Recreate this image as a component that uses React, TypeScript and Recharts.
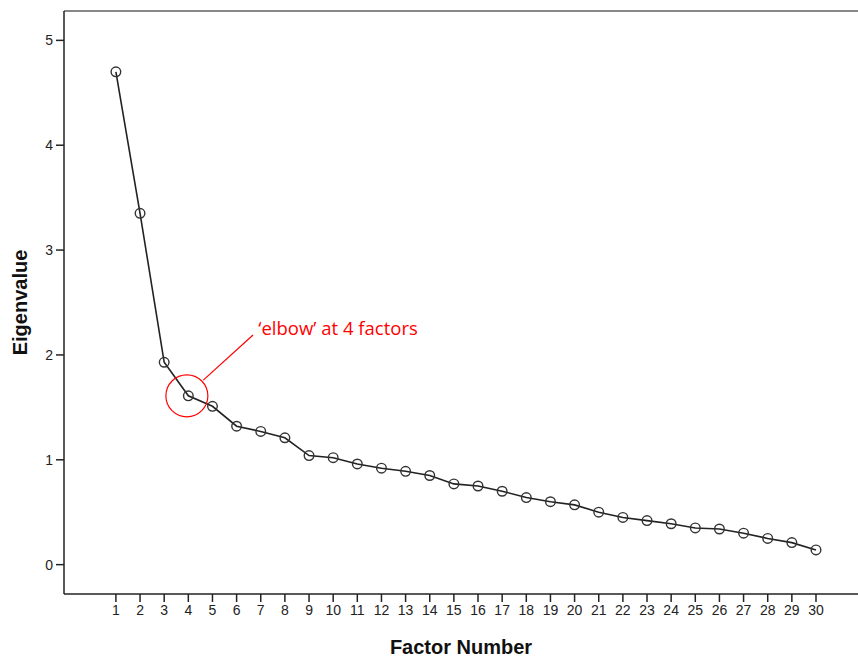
import React from 'react';
import { LineChart, Line, XAxis, YAxis, ReferenceLine, ReferenceDot, Label } from 'recharts';

const factors = [1, 2, 3, 4, 5, 6, 7, 8, 9, 10, 11, 12, 13, 14, 15, 16, 17, 18, 19, 20, 21, 22, 23, 24, 25, 26, 27, 28, 29, 30];
const eigenvalues = [
  4.70, 3.35, 1.93, 1.61, 1.51, 1.32, 1.27, 1.21, 1.04, 1.02,
  0.96, 0.92, 0.89, 0.85, 0.77, 0.75, 0.70, 0.64, 0.60, 0.57,
  0.50, 0.45, 0.42, 0.39, 0.35, 0.34, 0.30, 0.25, 0.21, 0.14,
];
const yTicks = [0, 1, 2, 3, 4, 5];
const elbowNote = '\u2018elbow\u2019 at 4 factors';

const data = factors.map((f, i) => ({ factor: f, eigen: eigenvalues[i] }));

const font = '"Liberation Sans", Arial, sans-serif';
const tickStyle = { fill: '#222', fontSize: 14, fontFamily: font };

const HollowDot = (props: any) => {
  const { cx, cy } = props;
  if (cx == null || cy == null) return null;
  return <circle cx={cx} cy={cy} r={4.8} fill="none" stroke="#333" strokeWidth={1.4} />;
};

export default function App() {
  return (
    <div style={{ position: 'absolute', left: 0, top: 0, background: '#fff' }}>
      <LineChart width={858} height={657} data={data} margin={{ top: 11, right: 0, bottom: 0, left: 0 }}>
        <XAxis
          dataKey="factor"
          type="number"
          domain={[-1.15, 31.74]}
          ticks={factors}
          interval={0}
          height={63}
          tick={tickStyle}
          tickSize={8}
          tickMargin={3}
          stroke="#222"
          axisLine={{ stroke: '#222', strokeWidth: 1.5 }}
          tickLine={{ stroke: '#222', strokeWidth: 1.5 }}
          allowDataOverflow
        >
          <Label value="Factor Number" position="insideBottom" offset={3} style={{ fontFamily: font, fontSize: 20, fontWeight: 'bold', fill: '#111' }} />
        </XAxis>
        <YAxis
          type="number"
          domain={[-0.28, 5.28]}
          ticks={yTicks}
          width={64}
          tick={tickStyle}
          tickSize={8}
          tickMargin={3}
          axisLine={{ stroke: '#222', strokeWidth: 1.5 }}
          tickLine={{ stroke: '#222', strokeWidth: 1.5 }}
          allowDataOverflow
        >
          <Label value="Eigenvalue" angle={-90} position="insideLeft" offset={20} style={{ fontFamily: font, fontSize: 20, fontWeight: 'bold', fill: '#111', textAnchor: 'middle' }} />
        </YAxis>
        <ReferenceLine y={5.28} stroke="#888" strokeWidth={2} />
        <Line
          dataKey="eigen"
          stroke="#222"
          strokeWidth={1.6}
          dot={<HollowDot />}
          activeDot={false}
          isAnimationActive={false}
        />
        <ReferenceDot x={3.94} y={1.61} r={21} fill="none" stroke="#ff0000" strokeWidth={1.2} />
        <ReferenceLine
          segment={[{ x: 4.62, y: 1.76 }, { x: 6.68, y: 2.19 }]}
          stroke="#ff0000"
          strokeWidth={1.2}
        />
        <ReferenceDot x={6.9} y={2.25} r={0} fill="none" stroke="none">
          <Label value={elbowNote} position="right" offset={0} style={{ fontFamily: '"Open Sans", sans-serif', fontSize: 18.5, fill: '#ff0000' }} />
        </ReferenceDot>
      </LineChart>
    </div>
  );
}
